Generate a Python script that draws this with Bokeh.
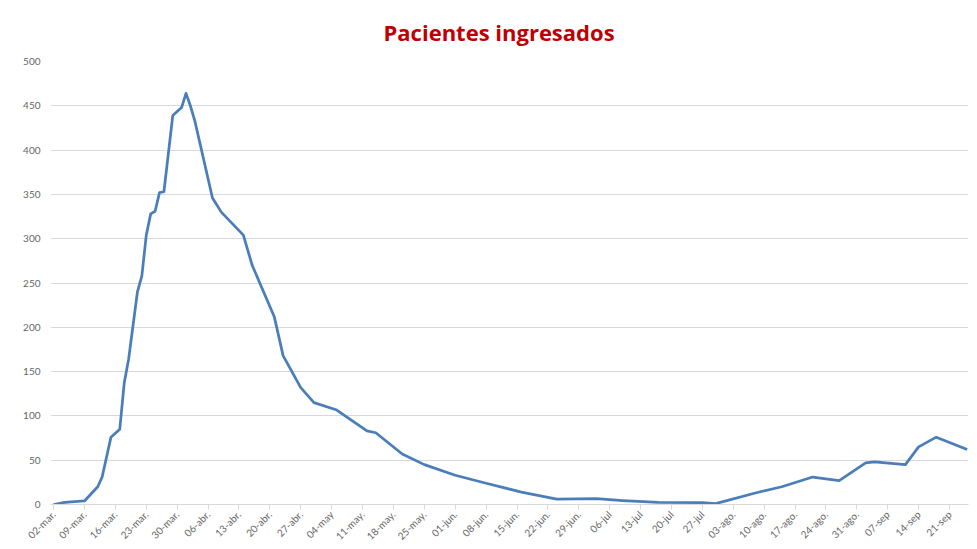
from datetime import date
from bokeh.plotting import figure
from bokeh.models import FixedTicker, Range1d
from bokeh.embed import file_html
from bokeh.resources import INLINE

# ---- data ----
dates = [
    "2020-03-02", "2020-03-04", "2020-03-06", "2020-03-09", "2020-03-12", "2020-03-13",
    "2020-03-15", "2020-03-17", "2020-03-18", "2020-03-19", "2020-03-20", "2020-03-21",
    "2020-03-22", "2020-03-23", "2020-03-24", "2020-03-25", "2020-03-26", "2020-03-27",
    "2020-03-29", "2020-03-31", "2020-04-01", "2020-04-02", "2020-04-03", "2020-04-07",
    "2020-04-09", "2020-04-14", "2020-04-16", "2020-04-21", "2020-04-23", "2020-04-27",
    "2020-04-30", "2020-05-05", "2020-05-12", "2020-05-14", "2020-05-20", "2020-05-25",
    "2020-06-01", "2020-06-08", "2020-06-16", "2020-06-24", "2020-07-03", "2020-07-09",
    "2020-07-17", "2020-07-27", "2020-07-30", "2020-08-08", "2020-08-14", "2020-08-21",
    "2020-08-27", "2020-09-02", "2020-09-04", "2020-09-11", "2020-09-14", "2020-09-18",
    "2020-09-25",
]
pacientes = [
    0, 2, 3, 4, 20, 31,
    76, 85, 137, 164, 202, 240,
    258, 304, 328, 331, 352, 353,
    439, 448, 464, 450, 433, 346,
    330, 304, 270, 212, 168, 132,
    115, 107, 83, 81, 57, 45,
    33, 24, 14, 6, 6.5, 4.5,
    2.5, 2, 1, 13, 20, 31,
    27, 47, 48, 45, 65, 76,
    62,
]
tick_labels = [
    "02-mar.", "09-mar.", "16-mar.", "23-mar.", "30-mar.", "06-abr.", "13-abr.",
    "20-abr.", "27-abr.", "04-may", "11-may.", "18-may.", "25-may.", "01-jun.",
    "08-jun.", "15-jun.", "22-jun.", "29-jun.", "06-jul", "13-jul", "20-jul",
    "27-jul", "03-ago.", "10-ago.", "17-ago.", "24-ago.", "31-ago.", "07-sep",
    "14-sep", "21-sep",
]
y_ticks = [0, 50, 100, 150, 200, 250, 300, 350, 400, 450, 500]
title_text = "Pacientes ingresados"

# ---- derived ----
start = date.fromisoformat(dates[0])
days = [(date.fromisoformat(d) - start).days for d in dates]
tick_pos = [7 * i for i in range(len(tick_labels))]

p = figure(width=977, height=549, output_backend="svg", toolbar_location=None,
           x_range=Range1d(-0.7, days[-1] + 0.3), y_range=Range1d(0, 500))
p.min_border_left = 50
p.min_border_right = 9
p.min_border_top = 60
p.min_border_bottom = 44
p.outline_line_color = None
p.background_fill_color = "white"
p.border_fill_color = "white"

p.title.text = title_text
p.title.align = "left"
p.title.text_color = "#C00000"
p.title.text_font = "Open Sans"
p.title.text_font_style = "bold"
p.title.text_font_size = "22px"
p.title.offset = 333
p.title.standoff = 29

p.line(days, pacientes, line_color="#4A7EBB", line_width=2.75, line_join="round")

# grid
p.xgrid.grid_line_color = None
p.ygrid.ticker = FixedTicker(ticks=y_ticks)
p.ygrid.grid_line_color = "#d9d9d9"
p.ygrid.grid_line_width = 1

# y axis
p.yaxis.ticker = FixedTicker(ticks=y_ticks)
p.yaxis.axis_line_color = None
p.yaxis.major_tick_line_color = None
p.yaxis.major_tick_out = 0
p.yaxis.major_tick_in = 0
p.yaxis.minor_tick_line_color = None
p.yaxis.major_label_text_font = "Lato"
p.yaxis.major_label_text_font_size = "10px"
p.yaxis.major_label_text_color = "#666666"
p.yaxis.major_label_standoff = 10

# x axis
p.xaxis.ticker = FixedTicker(ticks=tick_pos)
p.xaxis.major_label_overrides = {t: l for t, l in zip(tick_pos, tick_labels)}
p.xaxis.major_label_orientation = 0.785398
p.xaxis.axis_line_color = "#d9d9d9"
p.xaxis.major_tick_line_color = "#d9d9d9"
p.xaxis.major_tick_in = 0
p.xaxis.major_tick_out = 5
p.xaxis.minor_tick_line_color = None
p.xaxis.major_label_text_font = "Lato"
p.xaxis.major_label_text_font_size = "10px"
p.xaxis.major_label_text_color = "#666666"
p.xaxis.major_label_standoff = 3

open("out.html", "w").write(file_html(p, INLINE))
